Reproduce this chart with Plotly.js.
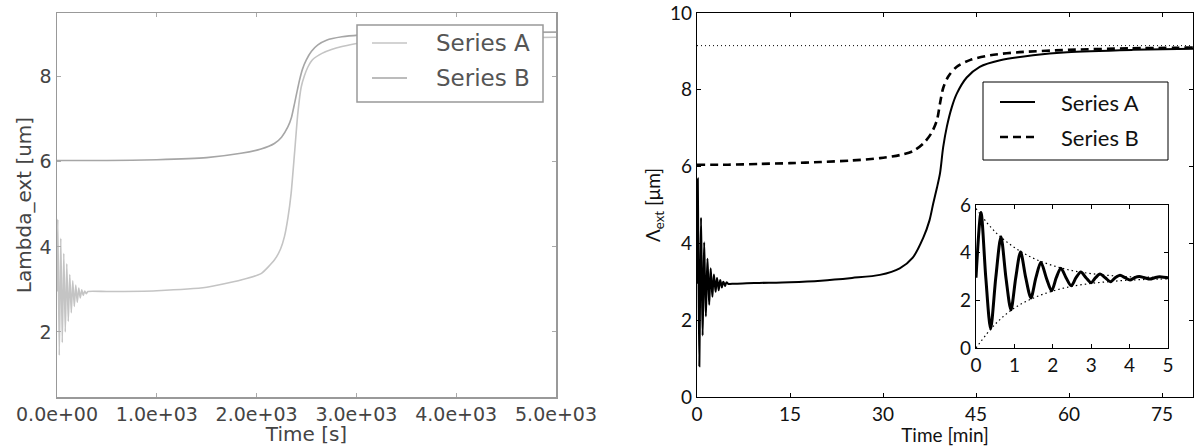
<!DOCTYPE html>
<html>
<head>
<meta charset="utf-8">
<script src="https://cdn.plot.ly/plotly-3.0.1.min.js"></script>
<style>
  html, body { margin: 0; padding: 0; background: #fff; }
  #chart { width: 1199px; height: 446px; }
</style>
</head>
<body>
<div id="chart"></div>
<script>
// ---------------- DATA ----------------
// Left panel (time in seconds)
const leftTimeA = [0, 8, 23, 38, 53, 68, 83, 98, 113, 128, 143, 158, 173, 188, 203, 218, 233, 248, 263, 278, 293, 310,
                   500, 1000, 1500, 1843, 2044, 2178, 2240, 2279, 2315, 2346, 2380, 2413, 2447, 2480, 2514, 2560, 2655, 2750, 2855, 3022, 3500, 4000, 5000];
const leftSeriesA = [2.95, 4.65, 1.45, 4.2, 1.75, 3.85, 2.0, 3.6, 2.25, 3.35, 2.45, 3.2, 2.6, 3.1, 2.7, 3.03, 2.8, 2.99, 2.86, 2.96, 2.9, 2.95,
                     2.95, 2.97, 3.05, 3.22, 3.37, 3.69, 3.95, 4.24, 4.7, 5.26, 6.2, 7.14, 7.76, 8.03, 8.23, 8.4, 8.55, 8.64, 8.71, 8.79, 8.86, 8.9, 8.93];
const leftTimeB = [0, 500, 1000, 1500, 1843, 2044, 2178, 2250, 2313, 2350, 2380, 2405, 2430, 2460, 2497, 2550, 2614, 2700, 2855, 3022, 3500, 4000, 5000];
const leftSeriesB = [6.03, 6.03, 6.05, 6.1, 6.2, 6.3, 6.43, 6.58, 6.82, 7.05, 7.37, 7.65, 7.92, 8.18, 8.39, 8.6, 8.75, 8.86, 8.94, 8.98, 9.02, 9.04, 9.05];
const leftXTickVals = [0, 1000, 2000, 3000, 4000, 5000];
const leftXTickText = ["0.0e+00", "1.0e+03", "2.0e+03", "3.0e+03", "4.0e+03", "5.0e+03"];
const leftYTickVals = [2, 4, 6, 8];

// Right panel (time in minutes)
const rightTimeA = [0, 0.13, 0.255, 0.38, 0.515, 0.65, 0.78, 0.91, 1.035, 1.16, 1.295, 1.43, 1.56, 1.69, 1.83, 1.97, 2.09, 2.21, 2.345, 2.48,
                    2.605, 2.73, 2.865, 3.0, 3.115, 3.23, 3.365, 3.5, 3.625, 3.75, 3.88, 4.01, 4.13, 4.25, 4.39, 4.53, 4.655, 4.78, 5.0,
                    6, 8, 10, 15, 20, 25, 29.5, 32.7, 34.8, 36.5, 37.5, 38.1, 38.7, 39.2, 39.7, 40.3, 41.1, 41.9, 43.5, 45.6, 48.9, 54.2, 59.7, 70.3, 80];
const rightSeriesA = [2.95, 5.69, 2.95, 0.8, 2.95, 4.67, 2.95, 1.6, 2.95, 4.03, 2.95, 2.1, 2.95, 3.6, 2.95, 2.4, 2.95, 3.35, 2.95, 2.61,
                      2.95, 3.19, 2.95, 2.74, 2.95, 3.1, 2.95, 2.78, 2.95, 3.05, 2.95, 2.85, 2.95, 3.0, 2.95, 2.89, 2.95, 2.99, 2.95,
                      2.95, 2.96, 2.97, 2.99, 3.03, 3.1, 3.18, 3.35, 3.63, 4.15, 4.6, 5.04, 5.45, 5.83, 6.5, 7.04, 7.55, 7.9, 8.32, 8.6, 8.77, 8.9, 8.98, 9.04, 9.07];
const rightTimeB = [0, 5, 10, 15, 20, 25, 29.5, 32.7, 34.8, 36.5, 37.8, 38.7, 39.2, 39.7, 40.5, 41.9, 44.1, 47.3, 52, 60, 70, 80];
const rightSeriesB = [6.05, 6.05, 6.07, 6.09, 6.12, 6.16, 6.22, 6.3, 6.4, 6.6, 6.87, 7.21, 7.65, 8.04, 8.34, 8.6, 8.78, 8.9, 8.98, 9.04, 9.08, 9.1];
const asymptoteTime = [0, 80];
const asymptoteLevel = [9.15, 9.15];
const rightXTickVals = [0, 15, 30, 45, 60, 75];
const rightYTickVals = [0, 2, 4, 6, 8, 10];

// Inset (first 5 minutes) envelopes
const envelopeTime = [0, 0.5, 1, 1.5, 2, 2.5, 3, 3.5, 4, 4.5, 5];
const envelopeUpper = [5.85, 4.87, 4.22, 3.76, 3.46, 3.25, 3.12, 3.04, 2.99, 2.97, 2.96];
const envelopeLower = [0, 1.0, 1.68, 2.1, 2.39, 2.59, 2.71, 2.79, 2.85, 2.88, 2.9];
const insetXTickVals = [0, 1, 2, 3, 4, 5];
const insetYTickVals = [0, 2, 4, 6];

const seriesNames = ["Series A", "Series B"];

// ---------------- LAYOUT HELPERS ----------------
const W = 1199, H = 446;
const fx = p => p / W;
const fy = p => 1 - p / H;

const leftFont = 'DejaVu Sans, sans-serif';
const rightFont = 'Lato, sans-serif';
const colA_left = '#c4c4c4';
const colB_left = '#a6a6a6';

const traces = [
  { x: leftTimeA, y: leftSeriesA, name: seriesNames[0], xaxis: 'x', yaxis: 'y', mode: 'lines',
    line: { color: colA_left, width: 1.6, shape: 'spline', smoothing: 0.5 }, showlegend: false },
  { x: leftTimeB, y: leftSeriesB, name: seriesNames[1], xaxis: 'x', yaxis: 'y', mode: 'lines',
    line: { color: colB_left, width: 1.6, shape: 'spline', smoothing: 0.5 }, showlegend: false },
  { x: asymptoteTime, y: asymptoteLevel, name: 'asymptote', xaxis: 'x2', yaxis: 'y2', mode: 'lines',
    line: { color: '#000', width: 1, dash: '1px,3px' }, showlegend: false },
  { x: rightTimeA, y: rightSeriesA, name: seriesNames[0], xaxis: 'x2', yaxis: 'y2', mode: 'lines',
    line: { color: '#000', width: 2, shape: 'spline', smoothing: 0.8 }, showlegend: false },
  { x: rightTimeB, y: rightSeriesB, name: seriesNames[1], xaxis: 'x2', yaxis: 'y2', mode: 'lines',
    line: { color: '#000', width: 2.6, dash: '8px,5px', shape: 'spline', smoothing: 0.8 }, showlegend: false },
  { x: envelopeTime, y: envelopeUpper, name: 'upper envelope', xaxis: 'x3', yaxis: 'y3', mode: 'lines',
    line: { color: '#000', width: 1.2, dash: '1.5px,3px', shape: 'spline' }, showlegend: false },
  { x: envelopeTime, y: envelopeLower, name: 'lower envelope', xaxis: 'x3', yaxis: 'y3', mode: 'lines',
    line: { color: '#000', width: 1.2, dash: '1.5px,3px', shape: 'spline' }, showlegend: false },
  { x: rightTimeA, y: rightSeriesA, name: seriesNames[0] + ' (inset)', xaxis: 'x3', yaxis: 'y3', mode: 'lines',
    line: { color: '#000', width: 3, shape: 'spline', smoothing: 0.8 }, showlegend: false }
];

const leftAxisCommon = {
  showgrid: false, zeroline: false, showline: true, linecolor: '#999', linewidth: 1.5, mirror: 'ticks',
  ticks: 'inside', ticklen: 4, tickcolor: '#aaa', tickwidth: 1,
  tickfont: { family: leftFont, size: 19, color: '#444' }
};
const rightAxisCommon = {
  showgrid: false, zeroline: false, showline: true, linecolor: '#000', linewidth: 1.2, mirror: 'ticks',
  ticks: 'inside', ticklen: 4, tickcolor: '#000', tickwidth: 1,
  tickfont: { family: rightFont, size: 19, color: '#111' }
};

const layout = {
  width: W, height: H,
  margin: { l: 0, r: 0, t: 0, b: 0 },
  paper_bgcolor: '#fff', plot_bgcolor: '#fff',
  showlegend: false,
  xaxis: Object.assign({}, leftAxisCommon, {
    domain: [fx(57), fx(556)], range: [0, 5000], anchor: 'y',
    tickmode: 'array', tickvals: leftXTickVals, ticktext: leftXTickText,
    title: { text: 'Time [s]', font: { family: leftFont, size: 20, color: '#444' }, standoff: 15 }
  }),
  yaxis: Object.assign({}, leftAxisCommon, {
    domain: [fy(397), fy(13)], range: [0.47, 9.5], anchor: 'x',
    tickmode: 'array', tickvals: leftYTickVals,
    title: { text: 'Lambda_ext [um]', font: { family: leftFont, size: 20, color: '#444' }, standoff: 2 }
  }),
  xaxis2: Object.assign({}, rightAxisCommon, {
    domain: [fx(697), fx(1193)], range: [0, 80], anchor: 'y2',
    tickmode: 'array', tickvals: rightXTickVals,
    title: { text: 'Time [min]', font: { family: rightFont, size: 19, color: '#111' } }
  }),
  yaxis2: Object.assign({}, rightAxisCommon, {
    domain: [fy(397), fy(13)], range: [0, 10], anchor: 'x2',
    tickmode: 'array', tickvals: rightYTickVals,
    title: { text: 'Λ<sub>ext</sub> [μm]', font: { family: rightFont, size: 19, color: '#111' }, standoff: 4 }
  }),
  xaxis3: Object.assign({}, rightAxisCommon, {
    domain: [fx(976), fx(1168)], range: [0, 5], anchor: 'y3',
    tickmode: 'array', tickvals: insetXTickVals
  }),
  yaxis3: Object.assign({}, rightAxisCommon, {
    domain: [fy(348), fy(205)], range: [0, 6], anchor: 'x3',
    tickmode: 'array', tickvals: insetYTickVals
  }),
  shapes: [
    // left legend
    { type: 'rect', xref: 'paper', yref: 'paper', x0: fx(357), x1: fx(543), y0: fy(102), y1: fy(25),
      line: { color: '#999', width: 1.5 }, fillcolor: '#fff', layer: 'above' },
    { type: 'line', xref: 'paper', yref: 'paper', x0: fx(372), x1: fx(407), y0: fy(43), y1: fy(43),
      line: { color: colA_left, width: 1.6 }, layer: 'above' },
    { type: 'line', xref: 'paper', yref: 'paper', x0: fx(372), x1: fx(407), y0: fy(78), y1: fy(78),
      line: { color: colB_left, width: 1.6 }, layer: 'above' },
    // right legend
    { type: 'rect', xref: 'paper', yref: 'paper', x0: fx(983), x1: fx(1168), y0: fy(160), y1: fy(82),
      line: { color: '#000', width: 1 }, fillcolor: '#fff', layer: 'above' },
    { type: 'line', xref: 'paper', yref: 'paper', x0: fx(1000), x1: fx(1035), y0: fy(102), y1: fy(102),
      line: { color: '#000', width: 2 }, layer: 'above' },
    { type: 'line', xref: 'paper', yref: 'paper', x0: fx(1000), x1: fx(1036), y0: fy(137), y1: fy(137),
      line: { color: '#000', width: 2.6, dash: '8px,5px' }, layer: 'above' }
  ],
  annotations: [
    { xref: 'paper', yref: 'paper', x: fx(434), y: fy(43), xanchor: 'left', yanchor: 'middle', showarrow: false,
      text: seriesNames[0], font: { family: leftFont, size: 23, color: '#555' } },
    { xref: 'paper', yref: 'paper', x: fx(434), y: fy(78), xanchor: 'left', yanchor: 'middle', showarrow: false,
      text: seriesNames[1], font: { family: leftFont, size: 23, color: '#555' } },
    { xref: 'paper', yref: 'paper', x: fx(1059), y: fy(102), xanchor: 'left', yanchor: 'middle', showarrow: false,
      text: seriesNames[0], font: { family: rightFont, size: 22, color: '#111' } },
    { xref: 'paper', yref: 'paper', x: fx(1059), y: fy(137), xanchor: 'left', yanchor: 'middle', showarrow: false,
      text: seriesNames[1], font: { family: rightFont, size: 22, color: '#111' } }
  ]
};

Plotly.newPlot('chart', traces, layout, { staticPlot: true, displayModeBar: false });
</script>
</body>
</html>
